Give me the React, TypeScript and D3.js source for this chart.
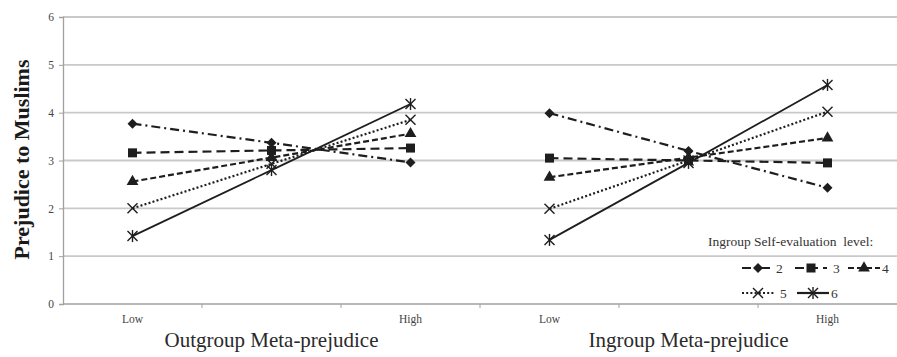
import React, { useEffect, useRef } from "react";
import * as d3 from "d3";

// slots along the x axis: two panels of Low / mid / High
const categories = ["Low", "", "High", "Low", "", "High"];
const panels = [
  [0, 1, 2],
  [3, 4, 5],
];
const panelTitles = ["Outgroup Meta-prejudice", "Ingroup Meta-prejudice"];
const yTicks = [0, 1, 2, 3, 4, 5, 6];

const levels = ["2", "3", "4", "5", "6"];
const level2 = [3.77, 3.37, 2.96, 3.99, 3.2, 2.43];
const level3 = [3.16, 3.21, 3.26, 3.05, 3.0, 2.95];
const level4 = [2.56, 3.06, 3.56, 2.65, 3.06, 3.47];
const level5 = [2.0, 2.93, 3.85, 1.99, 3.0, 4.02];
const level6 = [1.42, 2.8, 4.18, 1.34, 2.95, 4.58];
const seriesValues = [level2, level3, level4, level5, level6];

const markerKind = ["diamond", "square", "triangle", "x", "star"];
const dashes = ["9 4 2 4", "9 5", "6 3", "2 2.2", null];

const W = 897;
const H = 357;
const margin = { left: 63, right: 0, top: 17, bottom: 53 };
const ink = "#1e1e1e";
const serif = "'Liberation Serif', 'Times New Roman', serif";

const drawMarker = (g, kind, x, y) => {
  if (kind === "diamond") {
    g.append("path")
      .attr("d", `M${x},${y - 5}L${x + 5},${y}L${x},${y + 5}L${x - 5},${y}Z`)
      .attr("fill", ink);
  } else if (kind === "square") {
    g.append("rect")
      .attr("x", x - 4.5)
      .attr("y", y - 4.5)
      .attr("width", 9)
      .attr("height", 9)
      .attr("fill", ink);
  } else if (kind === "triangle") {
    g.append("path")
      .attr("d", d3.symbol(d3.symbolTriangle, 60)())
      .attr("transform", `translate(${x},${y})`)
      .attr("fill", ink);
  } else {
    const r = 5;
    const p = g.append("g").attr("stroke", ink).attr("stroke-width", 1.4);
    p.append("line").attr("x1", x - r).attr("y1", y - r).attr("x2", x + r).attr("y2", y + r);
    p.append("line").attr("x1", x - r).attr("y1", y + r).attr("x2", x + r).attr("y2", y - r);
    if (kind === "star") {
      p.append("line").attr("x1", x).attr("y1", y - r - 1).attr("x2", x).attr("y2", y + r + 1);
    }
  }
};

const PrejudiceChart = () => {
  const svgRef = useRef(null);

  useEffect(() => {
    const svg = d3.select(svgRef.current);
    svg.selectAll("*").remove();

    const innerH = H - margin.top - margin.bottom;

    const xScale = d3
      .scaleBand()
      .domain(categories.map((_, i) => i))
      .range([margin.left, W - margin.right]);
    const cx = (i) => xScale(i) + xScale.bandwidth() / 2;

    const yScale = d3
      .scaleLinear()
      .domain([0, 6])
      .range([margin.top + innerH, margin.top]);

    // grid
    svg
      .append("g")
      .selectAll("line")
      .data(yTicks.filter((t) => t > 0))
      .enter()
      .append("line")
      .attr("x1", margin.left)
      .attr("x2", W - margin.right)
      .attr("y1", (d) => yScale(d))
      .attr("y2", (d) => yScale(d))
      .attr("stroke", "#c9c9c9")
      .attr("stroke-width", 1.8);

    // y axis
    const yAxis = d3
      .axisLeft(yScale)
      .tickValues(yTicks)
      .tickFormat(d3.format("d"))
      .tickSize(4)
      .tickPadding(5);
    svg
      .append("g")
      .attr("transform", `translate(${margin.left},0)`)
      .call(yAxis)
      .attr("font-family", serif)
      .attr("font-size", 11.5)
      .call((g) => g.select(".domain").attr("stroke", "#a0a0a0").attr("stroke-width", 1.3))
      .call((g) => g.selectAll(".tick line").attr("stroke", "#a0a0a0"))
      .call((g) => g.selectAll("text").attr("fill", "#444"));

    // x axis: ticks on band boundaries
    const xAxisG = svg
      .append("g")
      .attr("transform", `translate(0,${yScale(0)})`);
    xAxisG
      .append("line")
      .attr("x1", margin.left)
      .attr("x2", W)
      .attr("stroke", "#a0a0a0")
      .attr("stroke-width", 1.5);
    xAxisG
      .selectAll(".tk")
      .data(categories.map((_, i) => i).slice(1))
      .enter()
      .append("line")
      .attr("x1", (d) => xScale(d))
      .attr("x2", (d) => xScale(d))
      .attr("y2", 4)
      .attr("stroke", "#a0a0a0");
    xAxisG
      .selectAll(".lbl")
      .data(categories)
      .enter()
      .append("text")
      .text((d) => d)
      .attr("x", (_, i) => cx(i))
      .attr("y", 19)
      .attr("text-anchor", "middle")
      .attr("font-family", serif)
      .attr("font-size", 11.5)
      .attr("fill", "#444");

    // axis titles
    panels.forEach((idx, p) => {
      svg
        .append("text")
        .text(panelTitles[p])
        .attr("x", cx(idx[1]))
        .attr("y", 347)
        .attr("text-anchor", "middle")
        .attr("font-family", serif)
        .attr("font-size", 21)
        .attr("fill", "#2a2a2a");
    });
    svg
      .append("text")
      .text("Prejudice to Muslims")
      .attr("transform", `translate(29,${yScale(3) - 1}) rotate(-90)`)
      .attr("text-anchor", "middle")
      .attr("font-family", serif)
      .attr("font-weight", "bold")
      .attr("font-size", 22)
      .attr("fill", "#1a1a1a");

    // series
    seriesValues.forEach((vals, s) => {
      const g = svg.append("g");
      panels.forEach((idx) => {
        const pts = idx.map((i) => ({ i, v: vals[i] }));
        g.append("path")
          .attr(
            "d",
            d3
              .line()
              .x((d) => cx(d.i))
              .y((d) => yScale(d.v))(pts),
          )
          .attr("fill", "none")
          .attr("stroke", ink)
          .attr("stroke-width", s === 4 ? 1.8 : 2.2)
          .attr("stroke-dasharray", dashes[s]);
        pts.forEach((d) => drawMarker(g, markerKind[s], cx(d.i), yScale(d.v)));
      });
    });

    // legend
    const legend = svg.append("g");
    legend
      .append("text")
      .text("Ingroup Self-evaluation  level:")
      .attr("x", 708)
      .attr("y", 246)
      .attr("font-family", serif)
      .attr("font-size", 13.5)
      .attr("fill", "#333")
      .style("white-space", "pre");
    const legendPos = [
      [742, 268],
      [795, 268],
      [848, 268],
      [742, 293],
      [797, 293],
    ];
    levels.forEach((lv, s) => {
      const [lx, ly] = legendPos[s];
      legend
        .append("line")
        .attr("x1", lx)
        .attr("x2", lx + 32)
        .attr("y1", ly)
        .attr("y2", ly)
        .attr("stroke", ink)
        .attr("stroke-width", 2.2)
        .attr("stroke-dasharray", dashes[s]);
      drawMarker(legend, markerKind[s], lx + 16, ly);
      legend
        .append("text")
        .text(lv)
        .attr("x", lx + (s === 1 || s === 3 ? 38 : 34))
        .attr("y", ly + 4.5)
        .attr("font-family", serif)
        .attr("font-size", 13.5)
        .attr("fill", "#333");
    });
  }, []);

  return (
    <svg
      ref={svgRef}
      width={W}
      height={H}
      style={{ position: "absolute", left: 0, top: 0, background: "#fff" }}
    />
  );
};

export default function App() {
  return <PrejudiceChart />;
}
